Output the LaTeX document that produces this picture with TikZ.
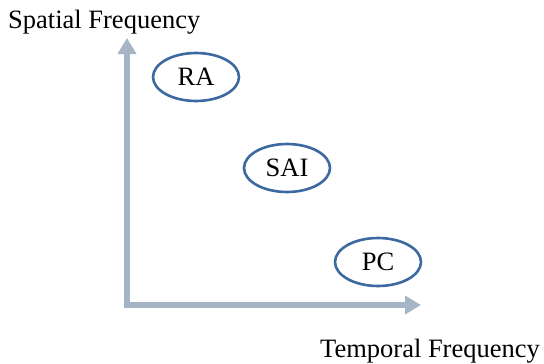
\documentclass[tikz,border=0pt]{standalone}
\usepackage{fontspec}
\setmainfont{Liberation Serif}
\usetikzlibrary{positioning}
\usetikzlibrary{shapes}
\usetikzlibrary{arrows.meta}

\definecolor{axisgray}{RGB}{165,181,198}
\definecolor{ringblue}{RGB}{60,105,160}

\tikzset{
  axis/.style={axisgray, line width=6pt, line join=miter,
    -{Triangle[width=18pt,length=16pt]}},
  field/.style={ellipse, draw=ringblue, line width=2.6pt,
    minimum width=86pt, minimum height=48pt, inner sep=0pt,
    font=\fontsize{26.5}{30}\selectfont},
  label/.style={font=\fontsize{26.5}{30}\selectfont, inner sep=0pt, anchor=base west}
}

\begin{document}
\begin{tikzpicture}[x=1pt,y=-1pt]
\useasboundingbox (0,0) rectangle (544,364);
%axes
\coordinate (origin) at (127,305);
\coordinate (corner) at (124,305);
\coordinate (ytip) at (127,38);
\coordinate (xtip) at (421,305);
\draw[axis] (origin) -- (ytip);
\draw[axis] (corner) -- (xtip);
%labels
\node[label] (ylab) at (8,28) {Spatial Frequency};
\node[label] (xlab) at (320,357) {Temporal Frequency};
%nodes
\node[field] (ra) at (196,77) {RA};
\node[field] (sai) at (287,168) {SAI};
\node[field] (pc) at (378,262) {PC};
\end{tikzpicture}
\end{document}
